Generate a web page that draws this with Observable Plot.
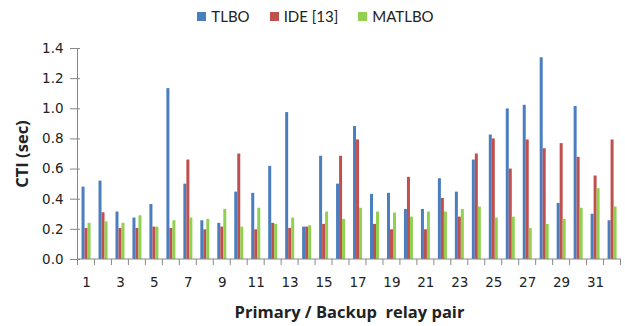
<!DOCTYPE html>
<html><head><meta charset="utf-8">
<script src="https://cdn.jsdelivr.net/npm/d3@7"></script>
<script src="https://cdn.jsdelivr.net/npm/@observablehq/plot@0.6"></script>
<style>
body{margin:0;background:#fff;font-family:Lato,"Liberation Sans",sans-serif;}
#legend{height:32px;display:flex;justify-content:center;align-items:center;gap:20px;font-size:15px;color:#222;padding-left:6px;box-sizing:border-box;width:625px}
#legend .item{display:flex;align-items:center;gap:5px}
#legend .sw{width:9px;height:9px;display:inline-block}
svg [aria-label="y-axis label"] text, svg [aria-label="fx-axis label"] text, svg [aria-label="y-axis label"], svg [aria-label="fx-axis label"]{font-weight:bold;white-space:pre;font-size:16.5px;font-family:"Open Sans",Lato,sans-serif}
</style>
</head><body>
<div id="legend"></div>
<div id="chart"></div>
<script>
const pairs = [1,2,3,4,5,6,7,8,9,10,11,12,13,14,15,16,17,18,19,20,21,22,23,24,25,26,27,28,29,30,31,32];
const seriesNames = ["TLBO","IDE [13]","MATLBO"];
const colors = ["#4a7ebf","#c0504d","#92d050"];
const tlbo = [0.48,0.52,0.315,0.275,0.365,1.134,0.50,0.257,0.24,0.447,0.439,0.618,0.975,0.215,0.685,0.50,0.882,0.432,0.439,0.332,0.332,0.536,0.447,0.66,0.826,0.999,1.023,1.338,0.372,1.015,0.30,0.257];
const ide = [0.206,0.31,0.206,0.206,0.215,0.206,0.66,0.197,0.215,0.70,0.197,0.24,0.206,0.215,0.233,0.685,0.793,0.233,0.197,0.545,0.197,0.405,0.281,0.70,0.80,0.60,0.793,0.735,0.769,0.678,0.554,0.793];
const matlbo = [0.24,0.25,0.24,0.29,0.215,0.257,0.275,0.266,0.332,0.215,0.34,0.233,0.275,0.224,0.315,0.266,0.34,0.315,0.308,0.281,0.315,0.315,0.332,0.348,0.275,0.281,0.206,0.233,0.266,0.34,0.47,0.348];
const yTicks = [0,0.2,0.4,0.6,0.8,1.0,1.2,1.4];
const yLabel = "CTI (sec)";
const xLabel = "Primary / Backup  relay pair";

const values = [tlbo, ide, matlbo];
const data = pairs.flatMap((p,i) => seriesNames.map((s,k) => ({pair:p, series:s, value:values[k][i]})));

// legend
const leg = document.getElementById("legend");
seriesNames.forEach((s,k) => {
  const it = document.createElement("span"); it.className = "item";
  const sw = document.createElement("span"); sw.className = "sw"; sw.style.background = colors[k];
  const tx = document.createElement("span"); tx.textContent = s;
  it.append(sw, tx); leg.append(it);
});

const chart = Plot.plot({
  width: 625, height: 294,
  marginTop: 16, marginBottom: 67, marginLeft: 77.5, marginRight: 4.5,
  style: {fontFamily: "'DejaVu Sans', sans-serif", fontSize: "13.5px", color: "#222", background: "#fff", overflow: "visible"},
  fx: {domain: pairs, paddingInner: 0.3, paddingOuter: 0.15, label: null, axis: null},
  x: {domain: seriesNames, padding: 0, axis: null},
  y: {domain: [0, 1.4]},
  color: {domain: seriesNames, range: colors},
  marks: [
    Plot.barY(data, {fx: "pair", x: "series", y: "value", fill: "series"}),
    Plot.axisY({ticks: yTicks, tickFormat: d3.format(".1f"), tickSize: 10, tickPadding: 7, stroke: "#888", label: yLabel, labelAnchor: "center", labelOffset: 64, labelArrow: false}),
    Plot.axisFx({anchor: "bottom", tickFormat: d => d % 2 ? String(d) : "", tickSize: 0, tickPadding: 18, label: xLabel, labelAnchor: "center", labelOffset: 58, labelArrow: false})
  ]
});
document.getElementById("chart").append(chart);

// axis lines and category boundary ticks, positioned with Plot's own scales
const svg = d3.select(chart.tagName.toLowerCase() === "svg" ? chart : chart.querySelector("svg"));
const fxS = chart.scale("fx"), yS = chart.scale("y");
const [r0, r1] = fxS.range;
const step = (r1 - r0) / pairs.length;
const y0 = yS.apply(0), yTop = yS.apply(1.4);
const g = svg.append("g").attr("stroke", "#888").attr("stroke-width", 1);
g.append("line").attr("x1", r0).attr("x2", r0).attr("y1", yTop).attr("y2", y0);
g.append("line").attr("x1", r0).attr("x2", r1).attr("y1", y0).attr("y2", y0);
d3.range(pairs.length + 1).forEach(i => {
  const x = r0 + i * step;
  g.append("line").attr("x1", x).attr("x2", x).attr("y1", y0).attr("y2", y0 + 6);
});
</script>
</body></html>
